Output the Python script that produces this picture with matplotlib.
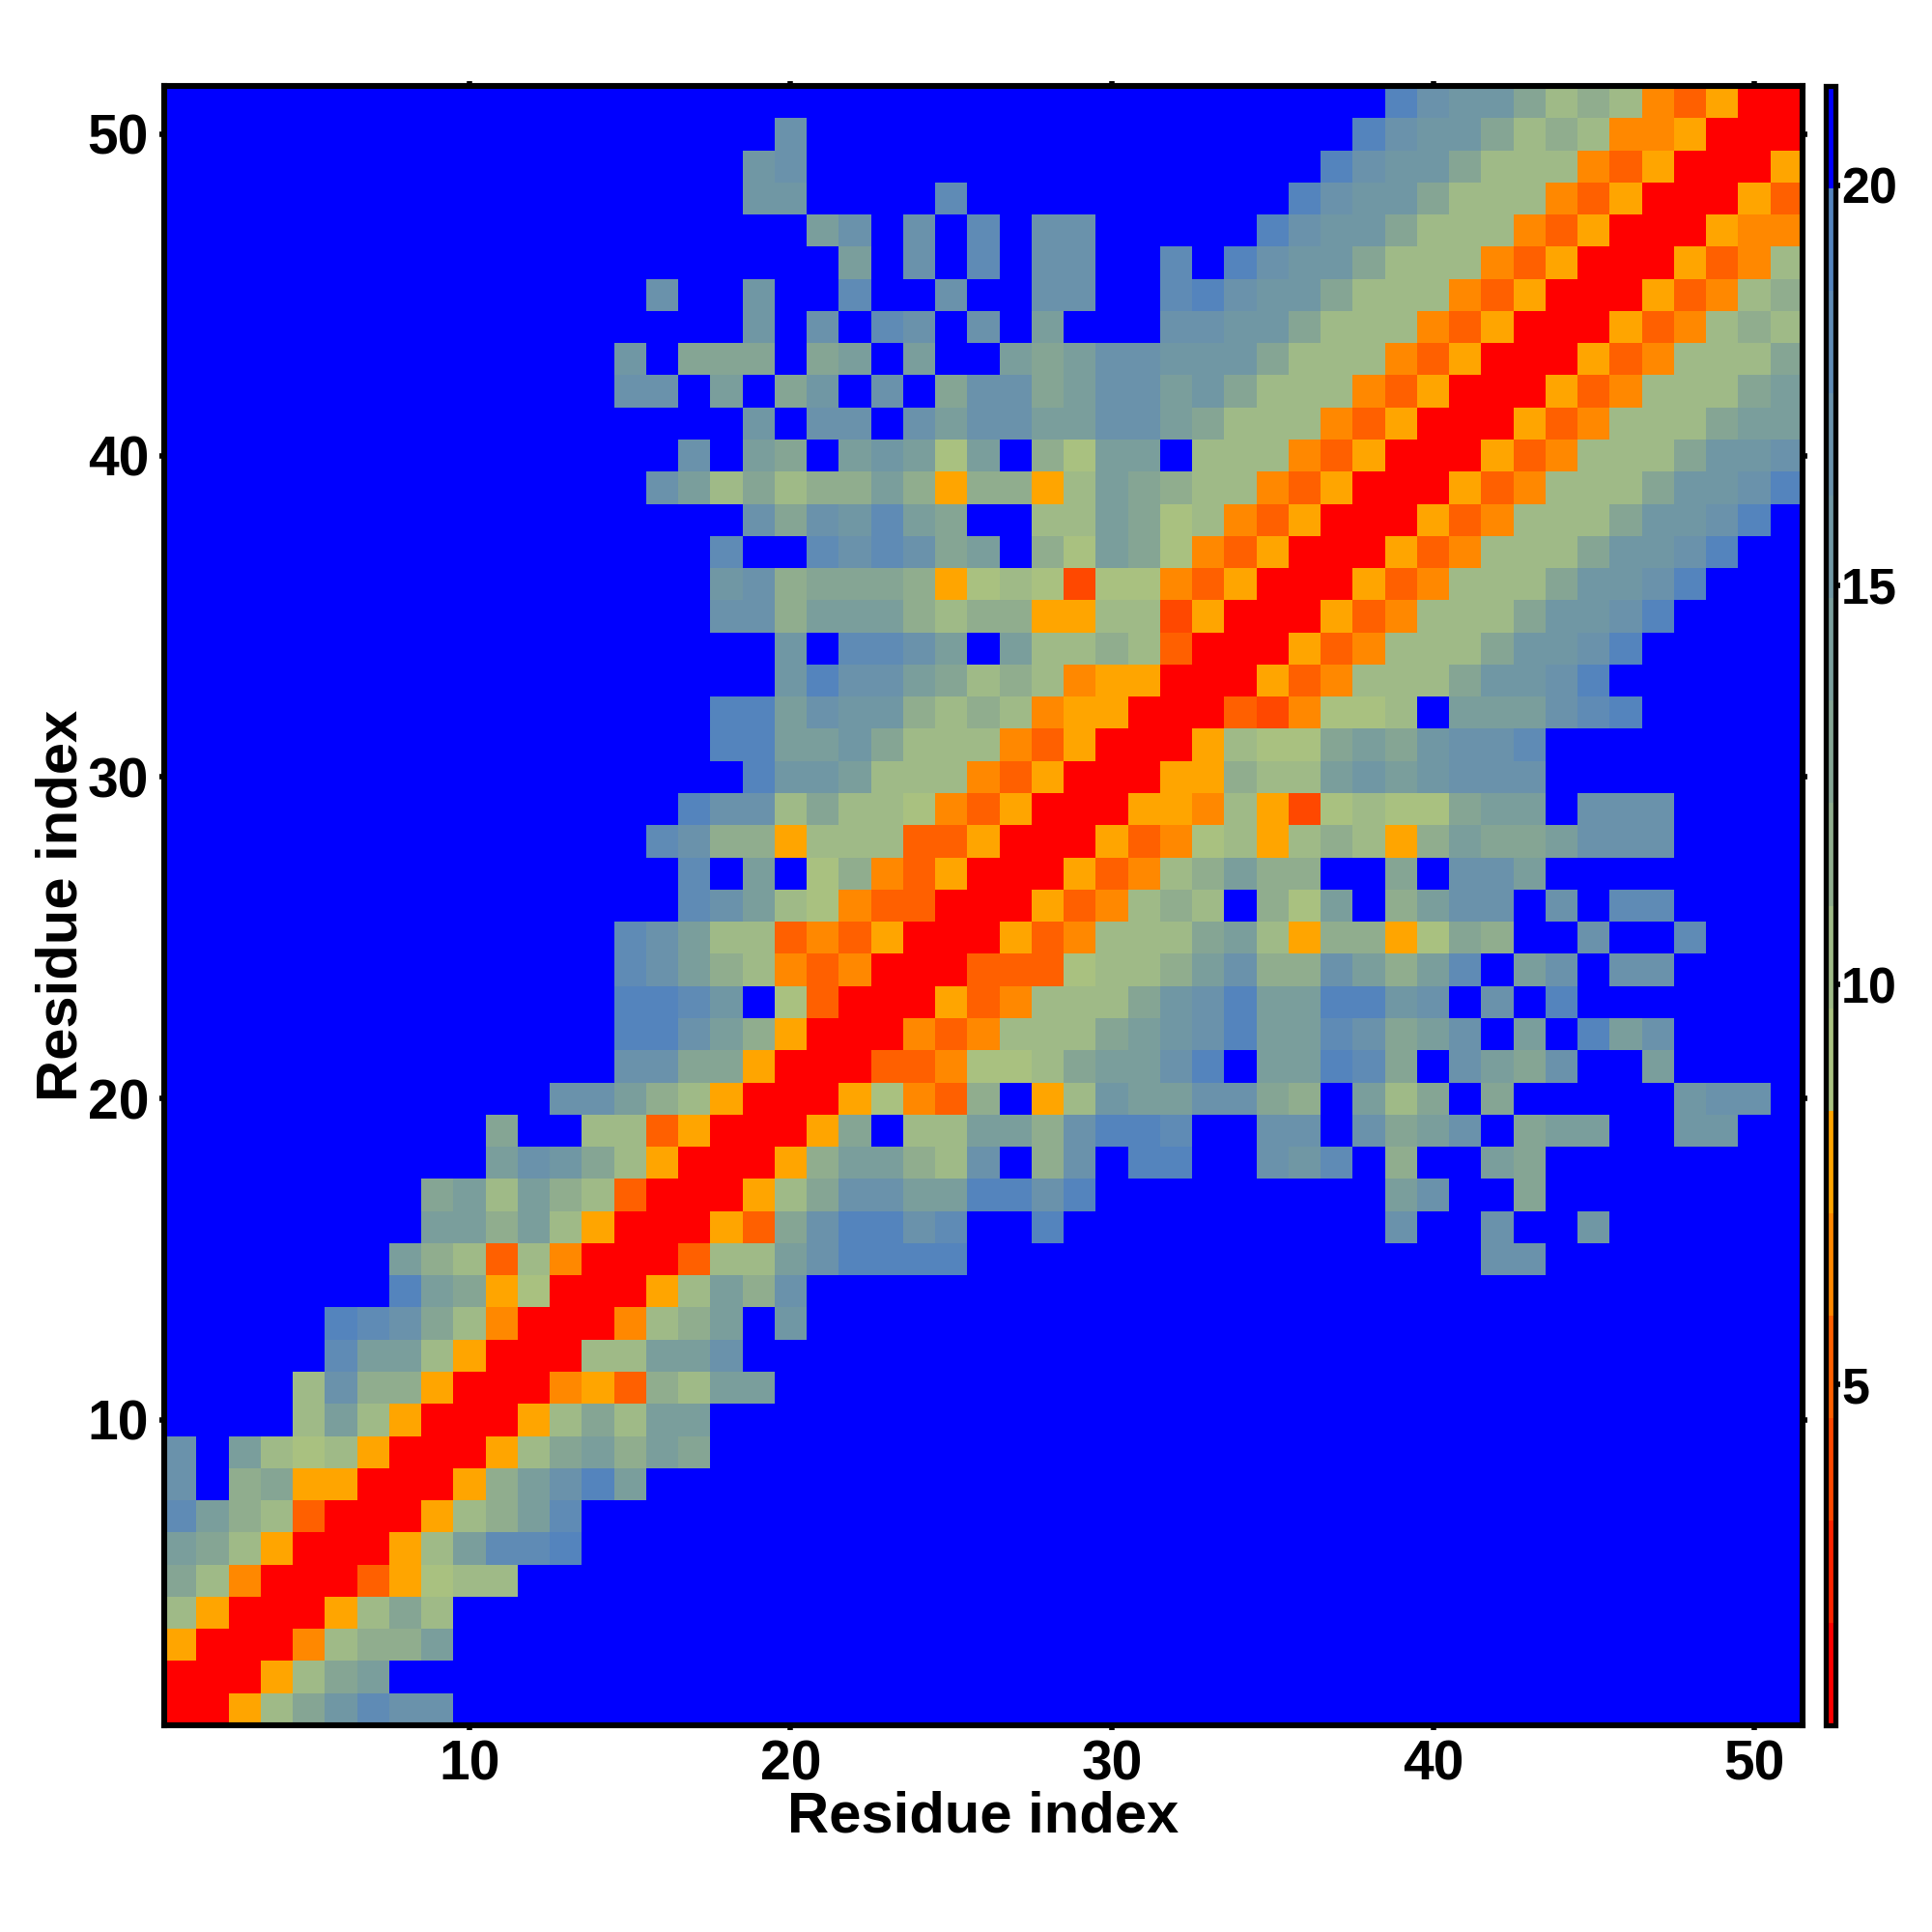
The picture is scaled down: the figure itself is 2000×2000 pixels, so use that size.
import matplotlib
matplotlib.use("Agg")
import matplotlib.pyplot as plt
import numpy as np
from matplotlib.colors import ListedColormap, BoundaryNorm

plt.rcParams['font.family'] = ['Liberation Sans', 'DejaVu Sans']
plt.rcParams['font.weight'] = 'bold'

# Distance class of each residue pair, top row = residue 51, columns = residue 1..51.
# 1-6 = red to orange classes, a-i = green to steel-blue classes, '.' = farthest (blue).
rows_top_down = [
".......... .......... .......... ........ig ffdbcb54611",  # 51
".......... .........g .......... .......igf fdbcb556111",  # 50
".......... ........fg .......... ......igff dbbb5461116",  # 49
".......... ........ff ....h..... .....igffd bbb54611164",  # 48
".......... .......... eg.g.h.gg. ....igffdb bb546111655",  # 47
".......... .......... .e.g.h.gg. .h.igffdbb b546111645b",  # 46
".......... .....g..f. .h..g..gg. .higffdbbb 546111645bc",  # 45
".......... ........f. g.hg.g.e.. .ggffdbbb5 46111645bcb",  # 44
".......... ....f.ddd. de.e..edeg gfffdbbb54 6111645bbbd",  # 43
".......... ....gg.e.d f.g.dggdeg gefdbbb546 111645bbbde",  # 42
".......... ........f. gg.geggeeg gedbbb5461 11645bbbdee",  # 41
".......... ......g.ed .efeae.cae e.bbb54611 1645bbbdffg",  # 40
".......... .....gebdb ccec6cc6be dcbb546111 645bbbdffgi",  # 39
".......... ........gd gfhed..bbe dab5461116 45bbbdffgi.",  # 38
".......... .......h.. hghgde.cae da54611164 5bbbdffgi..",  # 37
".......... .......fgc dddc6aba3a a546111645 bbbdffgi...",  # 36
".......... .......ggc eeecbcc66b b36111645b bbdffgi....",  # 35
".......... .........f .hhge.ebbc b4111645bb bdffgi.....",  # 34
".......... .........f iggedbcb56 6111645bbb dffgi......",  # 33
".......... .......iie gffcbcb566 111435aab. eeeghi.....",  # 32
".......... .......iie efdbbb5461 116baadedf ggh........",  # 31
".......... ........if febbb54611 166cbbefef ggg........",  # 30
".......... ......iggb dbba546111 665b63abaa dee.ggg....",  # 29
".......... .....hgcc6 bbb4461116 45ab6bcb6c eddeggg....",  # 28
".......... ......h.e. ac54611164 5bcecc..d. gge........",  # 27
".......... ......hgeb a544111645 bcb.cae.ce gg.g.hh....",  # 26
".......... ....hgebb4 546111645b bbdeb6cc6a dc..g..h...",  # 25
".......... ....hgecb5 45111444ab bcegccgece h.eg.gg....",  # 24
".......... ....iihf.a 4111645bbb dfgieeiifg .g.i.......",  # 23
".......... ....iigec6 111545bbbd efgieehgde g.e.ieg....",  # 22
".......... ....ggdd61 11445aabde egi.eeihd. gedg..e....",  # 21
".......... ..ggecb611 16a54c.6bf eeggdc.ebd .d.....fgg.",  # 20
".......... d..bb46111 6d.bbeecgi ih..gg.gde g.dee..ff..",  # 19
".......... egfdb61116 ceecbg.cg. ii..gfh.c. .ed........",  # 18
"........de becb41116b dggeeiigi. ........eg ..d........",  # 17
"........ee ceb611164d giigh..i.. ........g. .g..f......",  # 16
".......ecb 4b51114bbe giiii..... .......... .gg........",  # 15
".......ied 6a1116becg .......... .......... ...........",  # 14
".....ihgdb 51115bce.f .......... .......... ...........",  # 13
".....heeb6 111bbeeg.. .......... .......... ...........",  # 12
"....bgcc61 11564cbee. .......... .......... ...........",  # 11
"....beb611 16bdbee... .......... .......... ...........",  # 10
"g.ebab6111 6bdeced... .......... .......... ...........",  # 9
"g.cd661116 cegie..... .......... .......... ...........",  # 8
"hecb41116b ceh....... .......... .......... ...........",  # 7
"edb61116be hhi....... .......... .......... ...........",  # 6
"db511146ab b......... .......... .......... ...........",  # 5
"b61116bdb. .......... .......... .......... ...........",  # 4
"61115bcce. .......... .......... .......... ...........",  # 3
"1116bde... .......... .......... .......... ...........",  # 2
"116bdfhgg. .......... .......... .......... ...........",  # 1
]

class_order = "123456abcdefghi."
class_colors = ["#ff0000", "#ff2400", "#ff4800", "#ff6000", "#ff8800", "#ffa500",
                "#a9c180", "#9fba87", "#90ad8e", "#85a594", "#7a9e9c", "#7097a4",
                "#6a92ab", "#5f8bb5", "#5484bd", "#0000ff"]
level_edges = [0.74 + 1.28125 * k for k in range(17)]
residues = list(range(1, 52))
axis_ticks = [10, 20, 30, 40, 50]
bar_ticks = [5, 10, 15, 20]

Z = np.array([[level_edges[class_order.index(c)] + 0.64 for c in r.replace(" ", "")]
              for r in rows_top_down[::-1]])

fig = plt.figure(figsize=(20, 20), dpi=100)
W = H = 2000.0
ax = fig.add_axes([170/W, (H-1786)/H, 1696/W, 1697/H])
cmap = ListedColormap(class_colors)
norm = BoundaryNorm(level_edges, cmap.N)
mesh = ax.pcolormesh(residues, residues, Z, cmap=cmap, norm=norm, shading='nearest', rasterized=True)
ax.set_xlim(0.5, 51.5)
ax.set_ylim(0.5, 51.5)
ax.set_xticks(axis_ticks)
ax.set_yticks(axis_ticks)
ax.tick_params(axis='both', direction='out', length=3.5, width=4, top=True, right=True,
               labelsize=41)
ax.tick_params(axis='x', pad=7)
ax.tick_params(axis='y', pad=8)
for ln in ax.xaxis.get_ticklines() + ax.yaxis.get_ticklines():
    ln.set_solid_capstyle('round')
for s in ax.spines.values():
    s.set_linewidth(4.4)
ax.set_xlabel("Residue index", fontsize=43, fontweight='bold', labelpad=-0.6)
ax.set_ylabel("Residue index", fontsize=43, fontweight='bold', labelpad=-0.8)

cax = fig.add_axes([1889.5/W, (H-1786)/H, 11/W, 1697/H])
cb = fig.colorbar(mesh, cax=cax, ticks=bar_ticks, spacing='proportional', drawedges=False)
cb.ax.set_ylim(level_edges[0], level_edges[-1])
cb.ax.minorticks_off()
cb.ax.tick_params(direction='out', length=3.5, width=4, labelsize=37.5, pad=0.5, right=True)
cb.outline.set_linewidth(3.8)

fig.savefig("out.png", dpi=100, facecolor='white')
